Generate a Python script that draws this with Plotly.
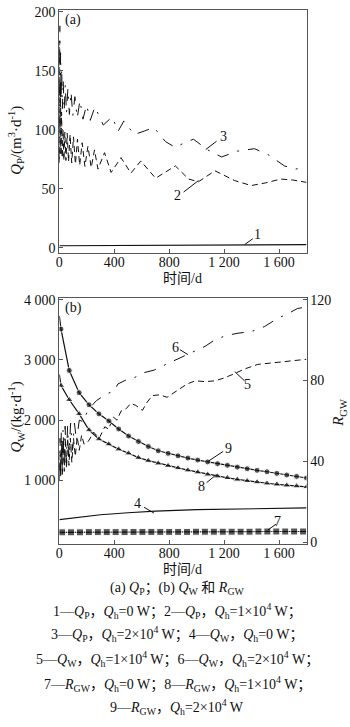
import plotly.graph_objects as go

# ---------------- data (a) Q_P ----------------
qp1_days = [0, 200, 400, 600, 800, 1000, 1200, 1400, 1600, 1800]
qp1_vals = [1.8, 1.9, 2.0, 2.1, 2.2, 2.4, 2.5, 2.7, 2.8, 2.8]

qp2_days = [0, 2, 5, 8, 12, 16, 21, 27, 33, 40, 48, 57, 67, 78, 90, 103, 117, 132, 148, 166,
            186, 208, 232, 256, 281, 329, 377, 449, 521, 593, 701, 845, 941, 1013, 1133, 1277,
            1397, 1500, 1613, 1700, 1800]
qp2_vals = [72, 175, 80, 140, 78, 115, 76, 100, 74, 98, 74, 97, 73, 96, 72, 94, 71, 92, 70, 89,
            69, 86, 68, 83, 66.7, 80.6, 63.9, 76.4, 63.3, 73.6, 59.0, 69.4, 58.3, 56.0, 65.3, 57.0,
            52.8, 55.0, 58.3, 57.5, 55.5]

qp3_days = [0, 3, 6, 9, 13, 17, 22, 28, 35, 43, 52, 62, 73, 85, 98, 113, 130, 150, 172, 198,
            225, 259, 320, 385, 427, 470, 545, 620, 689, 773, 845, 910, 977, 1080, 1181, 1300,
            1421, 1520, 1640, 1721, 1800]
qp3_vals = [75, 188, 120, 165, 125, 152, 118, 142, 116, 138, 114, 135, 113, 132, 112, 128, 110, 125,
            109, 121, 108, 119.5, 104, 111, 98.6, 107.5, 96, 99, 102, 90, 85, 89, 92, 83, 77, 82,
            84, 79, 69.4, 66.7, 69]

# ---------------- data (b) Q_W ----------------
qw4_days = [0, 100, 300, 500, 700, 1000, 1300, 1600, 1800]
qw4_vals = [350, 380, 430, 465, 490, 515, 530, 540, 545]

qw5_days = [0, 5, 10, 16, 22, 29, 36, 44, 52, 61, 70, 80, 91, 103, 116, 130, 145, 162, 180, 211,
            250, 290, 331, 360, 391, 420, 449, 487, 520, 557, 605, 640, 677, 730, 785, 830, 880,
            930, 989, 1060, 1133, 1200, 1265, 1350, 1445, 1540, 1637, 1720, 1800]
qw5_vals = [1000, 1500, 1050, 1600, 1100, 1650, 1150, 1700, 1200, 1700, 1250, 1700, 1300, 1700,
            1400, 1720, 1500, 1750, 1600, 1650, 1800, 1700, 1890, 1850, 2054, 2000, 2150, 2190,
            2280, 2244, 2163, 2300, 2407, 2420, 2380, 2450, 2516, 2600, 2652, 2640, 2652, 2700,
            2761, 2850, 2925, 2950, 2969, 2990, 3010]

qw6_days = [0, 4, 9, 14, 20, 27, 34, 42, 50, 60, 70, 82, 95, 110, 125, 145, 175, 211, 240, 271,
            320, 360, 403, 425, 497, 547, 619, 690, 749, 850, 941, 1000, 1061, 1133, 1210, 1301,
            1397, 1493, 1589, 1660, 1733, 1800]
qw6_vals = [1100, 1700, 1150, 1800, 1200, 1850, 1250, 1900, 1300, 1900, 1400, 1950, 1500, 1950,
            1650, 2000, 1972, 2190, 2250, 2326, 2400, 2450, 2489, 2598, 2680, 2707, 2789, 2830,
            2897, 3000, 3088, 3150, 3224, 3333, 3400, 3443, 3469, 3551, 3688, 3760, 3851, 3880]

# ---------------- data (b) R_GW ----------------
r7_days = [0, 20, 85, 150, 215, 280, 345, 410, 475, 540, 605, 670, 735, 800, 865, 930, 995,
           1060, 1125, 1190, 1255, 1320, 1385, 1450, 1515, 1580, 1645, 1710, 1775, 1800]
r7_vals = [4.8, 4.8, 4.8, 4.8, 4.9, 4.9, 4.9, 4.9, 4.9, 5.0, 5.0, 5.0, 5.0, 5.0, 5.0, 5.0, 5.1,
           5.1, 5.1, 5.1, 5.1, 5.1, 5.1, 5.2, 5.2, 5.2, 5.2, 5.2, 5.2, 5.2]

r_days = [0, 12, 72, 144, 216, 288, 360, 432, 504, 576, 648, 720, 792, 864, 936, 1008, 1080,
          1152, 1224, 1296, 1368, 1440, 1512, 1584, 1656, 1728, 1800]
r8_vals = [83, 77.5, 70.5, 63.5, 55.5, 51, 48.5, 46, 44, 41.8, 40.3, 39, 37.8, 36.7, 35.6, 34.6,
           33.5, 32.6, 31.8, 31, 30.3, 29.7, 29.1, 28.6, 28.1, 27.7, 27.3]
r9_vals = [112, 105.5, 85, 74, 68, 63.5, 60, 56, 52.5, 49.8, 47.3, 45.2, 43.9, 42.7, 41.6, 40.6,
           39.7, 38.8, 38, 37.1, 36.3, 35.5, 34.8, 34, 33.2, 32.5, 31.7]

x_ticks = [0, 400, 800, 1200, 1600]
x_ticktext = ["0", "400", "800", "1 200", "1 600"]
qp_ticks = [0, 50, 100, 150, 200]
qw_ticks = [1000, 2000, 3000, 4000]
qw_ticktext = ["1 000", "2 000", "3 000", "4 000"]
r_ticks = [0, 40, 80, 120]

# curve number labels: (text, axis, label x, label y, leader x0, y0, x1, y1)
curve_labels = [
    ("1", "a", 1440, 11.4, 1349, 2.8, 1409, 7.8),
    ("2", "a", 864, 44.5, 905, 47.3, 1013, 57),
    ("3", "a", 1195, 94, 1066, 83.3, 1145, 90.3),
    ("4", "b", 569, 610, 617, 555, 689, 458),
    ("5", "b", 1373, 2598, 1277, 2806, 1349, 2652),
    ("6", "b", 845, 3208, 878, 3170, 936, 3088),
    ("7", "b", 1589, 322, 1517, 175, 1577, 273),
    ("8", "b", 1032, 899, 1073, 964, 1145, 1100),
    ("9", "b", 1229, 1536, 1085, 1319, 1193, 1482),
]

caption_lines = [
    "(a) <i>Q</i><sub>P</sub>；(b) <i>Q</i><sub>W</sub> 和 <i>R</i><sub>GW</sub>",
    "1—<i>Q</i><sub>P</sub>，<i>Q</i><sub>h</sub>=0 W；2—<i>Q</i><sub>P</sub>，<i>Q</i><sub>h</sub>=1×10<sup>4</sup> W；",
    "3—<i>Q</i><sub>P</sub>，<i>Q</i><sub>h</sub>=2×10<sup>4</sup> W；4—<i>Q</i><sub>W</sub>，<i>Q</i><sub>h</sub>=0 W；",
    "5—<i>Q</i><sub>W</sub>，<i>Q</i><sub>h</sub>=1×10<sup>4</sup> W；6—<i>Q</i><sub>W</sub>，<i>Q</i><sub>h</sub>=2×10<sup>4</sup> W；",
    "7—<i>R</i><sub>GW</sub>，<i>Q</i><sub>h</sub>=0 W；8—<i>R</i><sub>GW</sub>，<i>Q</i><sub>h</sub>=1×10<sup>4</sup> W；",
    "9—<i>R</i><sub>GW</sub>，<i>Q</i><sub>h</sub>=2×10<sup>4</sup> W",
]

# ---------------- figure ----------------
W, H = 350, 727
FONT = "'Liberation Serif', 'Noto Sans CJK SC', serif"
BLACK = "#111111"
FRAME = "#555555"

fig = go.Figure()

def line_trace(x, y, xa, ya, dash="solid", width=1.0, mode="lines", symbol=None, msize=0):
    kw = dict(x=x, y=y, xaxis=xa, yaxis=ya, mode=mode, showlegend=False, hoverinfo="skip",
              line=dict(color=BLACK, width=width, dash=dash))
    if symbol:
        kw["marker"] = dict(symbol=symbol, size=msize, color=BLACK)
    return go.Scatter(**kw)

# (a)
fig.add_trace(line_trace(qp1_days, qp1_vals, "x", "y", width=1.1))
fig.add_trace(line_trace(qp2_days, qp2_vals, "x", "y", dash="6px,4px", width=1.0))
fig.add_trace(line_trace(qp3_days, qp3_vals, "x", "y", dash="12px,9px,2px,9px", width=1.0))
# (b) Q_W
fig.add_trace(line_trace(qw4_days, qw4_vals, "x2", "y2", width=1.1))
fig.add_trace(line_trace(qw5_days, qw5_vals, "x2", "y2", dash="6px,4px", width=1.0))
fig.add_trace(line_trace(qw6_days, qw6_vals, "x2", "y2", dash="12px,9px,2px,9px", width=1.0))
# (b) R_GW
t7 = line_trace(r7_days, r7_vals, "x2", "y3", width=1.2, mode="lines+markers", symbol="square", msize=7)
t7.marker.size = [0] + [7] * (len(r7_days) - 2) + [0]
fig.add_trace(t7)
t8 = line_trace(r_days, r8_vals, "x2", "y3", width=1.2, mode="lines+markers", symbol="triangle-up", msize=7)
t8.marker.size = [0] + [7] * (len(r_days) - 1)
fig.add_trace(t8)
t9 = line_trace(r_days, r9_vals, "x2", "y3", width=1.2, mode="lines+markers", symbol="circle", msize=6)
t9.marker.size = [0] + [6] * (len(r_days) - 1)
fig.add_trace(t9)

x0p, x1p = 56 / W, 306 / W
ya_dom = [1 - 252.3 / H, 1 - 4.7 / H]
yb_dom = [1 - 547.3 / H, 1 - 297.3 / H]

axis_common = dict(showgrid=False, zeroline=False, showline=True, linecolor=FRAME, linewidth=1,
                   ticks="inside", ticklen=4, tickcolor=FRAME, tickwidth=1,
                   tickfont=dict(family=FONT, size=14, color=BLACK))

fig.update_layout(
    width=W, height=H, margin=dict(l=0, r=0, t=0, b=0),
    paper_bgcolor="white", plot_bgcolor="white", showlegend=False,
    font=dict(family=FONT, size=14, color=BLACK),
    xaxis=dict(domain=[x0p, x1p], anchor="y", range=[0, 1800], tickvals=x_ticks,
               ticktext=x_ticktext, mirror=True, ticklabelstandoff=-4, **axis_common),
    yaxis=dict(domain=ya_dom, anchor="x", range=[-4.7, 201.7], tickvals=qp_ticks,
               mirror=True, **axis_common),
    xaxis2=dict(domain=[x0p, x1p], anchor="y2", range=[0, 1800], tickvals=x_ticks,
                ticktext=x_ticktext, mirror=True, ticklabelstandoff=-4, **axis_common),
    yaxis2=dict(domain=yb_dom, anchor="x2", range=[-55, 4030], tickvals=qw_ticks,
                ticktext=qw_ticktext, **axis_common),
    yaxis3=dict(anchor="x2", overlaying="y2", side="right", range=[-1, 121], tickvals=r_ticks,
                **axis_common),
)

def paper_text(px, py, text, angle=0, size=14):
    return dict(x=px / W, y=1 - py / H, xref="paper", yref="paper", text=text, showarrow=False,
                xanchor="center", yanchor="middle", textangle=angle, font=dict(size=size))

ann = [
    paper_text(70, 15, "(a)"),
    paper_text(70, 308, "(b)"),
    paper_text(12, 137, "<i>Q</i><sub>P</sub>/(m<sup>3</sup>·d<sup>-1</sup>)", -90, 15),
    paper_text(12, 418, "<i>Q</i><sub>W</sub>/(kg·d<sup>-1</sup>)", -90, 15),
    paper_text(339, 414, "<i>R</i><sub>GW</sub>", -90, 15),
    paper_text(181, 278, "时间/d"),
    paper_text(181, 573, "时间/d"),
]
cap_y = [592, 615, 639, 664, 689, 713]
for t, yy in zip(caption_lines, cap_y):
    ann.append(paper_text(175, yy, t))

shapes = []
for (t, panel, lx, ly, sx0, sy0, sx1, sy1) in curve_labels:
    xr, yr = ("x", "y") if panel == "a" else ("x2", "y2")
    ann.append(dict(x=lx, y=ly, xref=xr, yref=yr, text=t, showarrow=False,
                    xanchor="center", yanchor="middle"))
    shapes.append(dict(type="line", xref=xr, yref=yr, x0=sx0, y0=sy0, x1=sx1, y1=sy1,
                       line=dict(color=BLACK, width=1)))

fig.update_layout(annotations=ann, shapes=shapes)
fig.write_html("out.html")
